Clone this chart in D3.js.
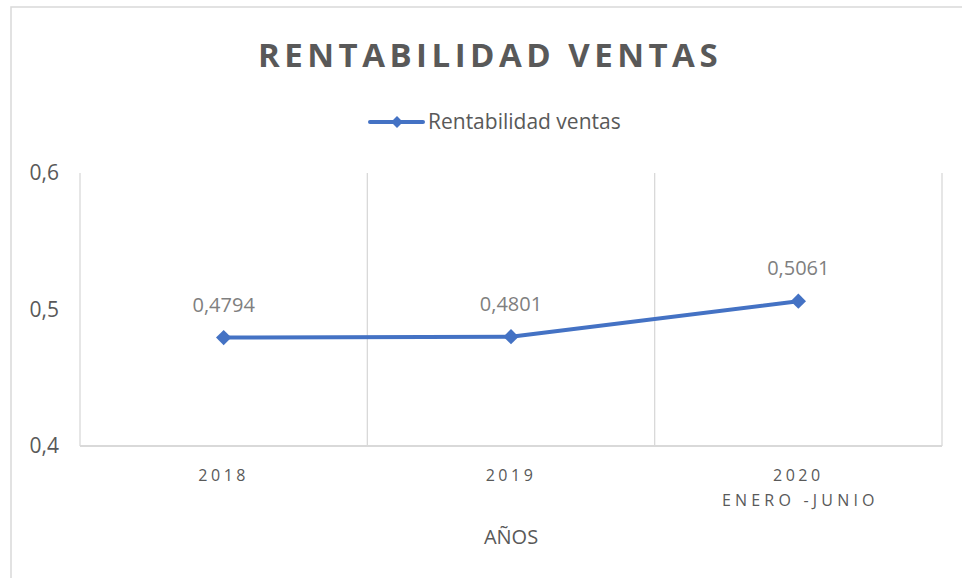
<!DOCTYPE html>
<html>
<head>
<meta charset="utf-8">
<script src="https://cdn.jsdelivr.net/npm/d3@7"></script>
<style>
  body { margin: 0; background: #fff; }
  text { font-family: "Open Sans", sans-serif; }
</style>
</head>
<body>
<svg id="chart" width="962" height="578"></svg>
<script>
// data
var categories = ["2018", "2019", "2020"];
var subLabels = ["", "", "ENERO -JUNIO"];
var values = [0.4794, 0.4801, 0.5061];
var valueLabels = ["0,4794", "0,4801", "0,5061"];
var yTicks = [0.4, 0.5, 0.6];

var svgWidth = 962, svgHeight = 578;
var margin = { top: 173, right: 20, bottom: 132, left: 80 };
var width = svgWidth - margin.left - margin.right;
var height = svgHeight - margin.top - margin.bottom;

var svg = d3.select("#chart");

// chart border
svg.append("rect")
   .attr("x", 11).attr("y", 7)
   .attr("width", 980).attr("height", 600)
   .attr("fill", "none")
   .attr("stroke", "#d9d9d9")
   .attr("stroke-width", 1.5);

svg.append("text")
   .attr("x", 490).attr("y", 67)
   .attr("text-anchor", "middle")
   .attr("font-size", 33)
   .attr("font-weight", "bold")
   .attr("letter-spacing", 4.5)
   .attr("fill", "#595959")
   .text("RENTABILIDAD VENTAS");

// legend
var lg = svg.append("g").attr("transform", "translate(370,122)");
lg.append("line")
  .attr("x1", 0).attr("x2", 53)
  .attr("stroke", "#4472c4").attr("stroke-width", 4)
  .attr("stroke-linecap", "round");
lg.append("path")
  .attr("transform", "translate(27,0)")
  .attr("d", d3.symbol(d3.symbolDiamond2, 90)())
  .attr("fill", "#4472c4");
lg.append("text")
  .attr("x", 58).attr("dy", "0.35em")
  .attr("font-size", 21)
  .attr("fill", "#595959")
  .text("Rentabilidad ventas");

var g = svg.append("g")
   .attr("transform", "translate(" + margin.left + "," + margin.top + ")");

var x = d3.scaleBand().domain(categories).range([0, width]);
var y = d3.scaleLinear().domain([0.4, 0.6]).range([height, 0]);

// vertical gridlines at category boundaries
var bounds = categories.map(function(c) { return x(c); }).concat([width]);
g.selectAll(".vgrid")
 .data(bounds)
 .enter().append("line")
 .attr("x1", function(d) { return d; })
 .attr("x2", function(d) { return d; })
 .attr("y1", 0).attr("y2", height)
 .attr("stroke", "#d9d9d9")
 .attr("stroke-width", 1.3);

// bottom axis line
g.append("line")
 .attr("x1", 0).attr("x2", width)
 .attr("y1", height).attr("y2", height)
 .attr("stroke", "#d9d9d9")
 .attr("stroke-width", 2);

// y axis labels
var yAxis = g.append("g")
 .call(d3.axisLeft(y).tickValues(yTicks).tickSize(0).tickPadding(21)
   .tickFormat(function(d) { return d3.format(".1f")(d).replace(".", ","); }));
yAxis.select(".domain").remove();
yAxis.selectAll("text")
 .attr("font-family", "Open Sans, sans-serif")
 .attr("font-size", 21)
 .attr("fill", "#595959");

// x axis labels
var xAxis = g.append("g")
 .attr("transform", "translate(0," + height + ")")
 .call(d3.axisBottom(x).tickSize(0).tickPadding(24));
xAxis.select(".domain").remove();
xAxis.selectAll("text")
 .attr("font-family", "Open Sans, sans-serif")
 .attr("font-size", 16)
 .attr("letter-spacing", 3.5)
 .attr("fill", "#595959");

g.selectAll(".sub")
 .data(categories)
 .enter().append("text")
 .attr("x", function(d) { return x(d) + x.bandwidth() / 2 + 2; })
 .attr("y", height + 60)
 .attr("text-anchor", "middle")
 .attr("font-size", 16)
 .attr("letter-spacing", 4.2)
 .attr("fill", "#595959")
 .text(function(d, i) { return subLabels[i]; });

g.append("text")
 .attr("x", x.bandwidth() * 1.5)
 .attr("y", height + 98)
 .attr("text-anchor", "middle")
 .attr("font-size", 20)
 .attr("fill", "#595959")
 .text("AÑOS");

// series
var line = d3.line()
 .x(function(d, i) { return x(categories[i]) + x.bandwidth() / 2; })
 .y(function(d) { return y(d); });

g.append("path")
 .datum(values)
 .attr("fill", "none")
 .attr("stroke", "#4472c4")
 .attr("stroke-width", 4)
 .attr("stroke-linejoin", "round")
 .attr("stroke-linecap", "round")
 .attr("d", line);

g.selectAll(".dot")
 .data(values)
 .enter().append("path")
 .attr("transform", function(d, i) {
   return "translate(" + (x(categories[i]) + x.bandwidth() / 2) + "," + y(d) + ")";
 })
 .attr("d", d3.symbol(d3.symbolDiamond2, 150)())
 .attr("fill", "#4472c4");

g.selectAll(".lbl")
 .data(values)
 .enter().append("text")
 .attr("x", function(d, i) { return x(categories[i]) + x.bandwidth() / 2; })
 .attr("y", function(d) { return y(d) - 26; })
 .attr("text-anchor", "middle")
 .attr("font-size", 20)
 .attr("fill", "#7f7f7f")
 .text(function(d, i) { return valueLabels[i]; });
</script>
</body>
</html>
